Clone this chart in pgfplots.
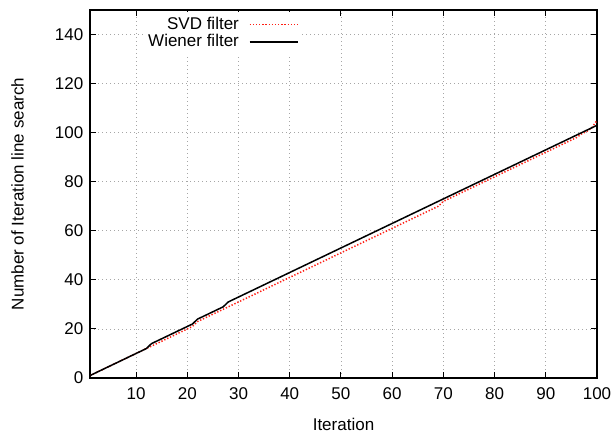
\documentclass[border=0pt]{standalone}
\usepackage{pgfplots}
\pgfplotsset{compat=1.18}
\usepackage{fontspec}
\setmainfont{Liberation Sans}
\definecolor{svdred}{RGB}{255,30,20}
\pgfplotstableread{
x y
1 1
12 12
13 14
21 22
22 24
27 29
28 31
100 103
}\wiener
\pgfplotstableread{
x y
1 1
12 12
13 13
21 21
22 23
69 70
70 72
96 98
97 99.5
98 100.5
99 102
100 105
}\svd
\begin{document}
\begin{tikzpicture}
\begin{axis}[
  at={(0pt,0pt)}, anchor=south west,
  scale only axis,
  width=304.2pt, height=220.8pt,
  xmin=1, xmax=100, ymin=0, ymax=150,
  xtick={10,20,...,100}, ytick={0,20,...,140},
  tick align=inside, major tick length=3.6pt,
  tick style={black, line width=0.6pt},
  axis line style={line width=0.8pt},
  grid=major,
  major grid style={gray!70, dotted, line width=0.5pt},
  font=\fontsize{10.2}{12}\selectfont,
  /pgf/number format/assume math mode=true,
  ticklabel style={font=\fontsize{10.2}{12}\selectfont},
  xticklabel style={yshift=-2.5pt},
  yticklabel style={xshift=-0.5pt},
  xlabel={Iteration},
  ylabel={Number of Iteration line search},
  xlabel style={at={(axis description cs:0.5,-0.125)}, anchor=center},
  ylabel style={at={(axis description cs:-0.143,0.5)}, anchor=center},
  legend style={at={(axis description cs:0.415,0.995)}, anchor=north east,
    draw=none, fill=white, inner sep=1pt, row sep=-2.5pt, column sep=4pt,
    font=\fontsize{10.2}{12}\selectfont},
  legend cell align=right,
  legend plot pos=right,
  legend image code/.code={\draw[#1] (0pt,0pt) -- (28.8pt,0pt);},
]
\addplot[svdred, line width=0.9pt, dash pattern=on 0.8pt off 1.1pt] table {\svd};
\addlegendentry{SVD filter}
\addplot[black, line width=0.9pt] table {\wiener};
\addlegendentry{Wiener filter}
\end{axis}
\pgfresetboundingbox
\path (-54pt,-34.2pt) rectangle (314.4pt,226.8pt);
\end{tikzpicture}
\end{document}
